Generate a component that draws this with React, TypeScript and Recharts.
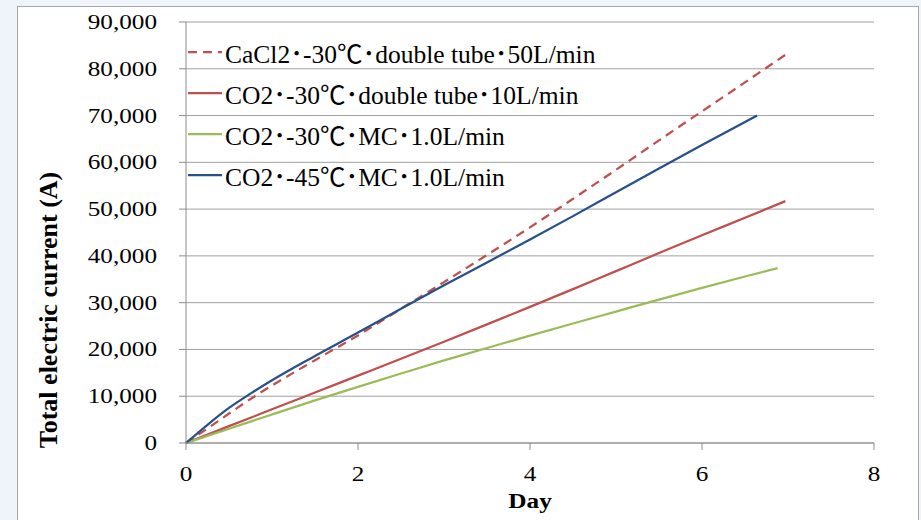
import React from "react";
import { LineChart, Line, XAxis, YAxis, CartesianGrid, Legend } from "recharts";

// CaCl2 · -30℃ · double tube · 50L/min (dashed)
const cacl2Days = [0, 0.25, 0.5, 0.8, 1.0, 1.5, 2.0, 2.5, 3.0, 3.5, 4.0, 4.5, 5.0, 5.5, 6.0, 6.5, 6.97];
const cacl2Values = [0, 3100, 6300, 10000, 12300, 17700, 23000, 28700, 34400, 40200, 46100, 52200, 58400, 64700, 70900, 77100, 83000];

// CO2 · -30℃ · double tube · 10L/min
const co2TubeDays = [0, 0.5, 1.0, 1.5, 2.0, 2.5, 3.0, 3.5, 4.0, 4.5, 5.0, 5.5, 6.0, 6.5, 6.97];
const co2TubeValues = [0, 3600, 7200, 10800, 14400, 18000, 21650, 25350, 29100, 32900, 36750, 40600, 44400, 48150, 51700];

// CO2 · -30℃ · MC · 1.0L/min
const co2Mc30Days = [0, 0.5, 1.0, 1.5, 2.0, 2.5, 3.0, 3.5, 4.0, 4.5, 5.0, 5.5, 6.0, 6.5, 6.88];
const co2Mc30Values = [0, 3050, 6100, 9100, 12000, 14850, 17650, 20300, 22950, 25550, 28100, 30650, 33150, 35600, 37400];

// CO2 · -45℃ · MC · 1.0L/min
const co2Mc45Days = [0, 0.25, 0.5, 0.75, 1.0, 1.5, 2.0, 2.5, 3.0, 3.5, 4.0, 4.5, 5.0, 5.5, 6.0, 6.64];
const co2Mc45Values = [0, 3900, 7500, 10550, 13400, 18600, 23600, 28700, 33700, 38600, 43500, 48500, 53600, 58700, 63700, 70000];

const xTicks = [0, 2, 4, 6, 8];
const yTicks = [0, 10000, 20000, 30000, 40000, 50000, 60000, 70000, 80000, 90000];

const toPoints = (days: number[], values: number[]) =>
  days.map((d, i) => ({ day: d, value: values[i] }));

const series = [
  { name: "CaCl2･-30℃･double tube･50L/min", color: "#c0504d", dash: "9 6", data: toPoints(cacl2Days, cacl2Values) },
  { name: "CO2･-30℃･double tube･10L/min", color: "#c0504d", dash: undefined, data: toPoints(co2TubeDays, co2TubeValues) },
  { name: "CO2･-30℃･MC･1.0L/min", color: "#9bbb59", dash: undefined, data: toPoints(co2Mc30Days, co2Mc30Values) },
  { name: "CO2･-45℃･MC･1.0L/min", color: "#28508a", dash: undefined, data: toPoints(co2Mc45Days, co2Mc45Values) },
];

const serif = "'Liberation Serif', 'Noto Sans CJK JP', serif";

const YTick = (props: any) => {
  const { x, y, payload } = props;
  return (
    <g transform={`translate(${x},${y})`}>
      <text transform="scale(1.2,1)" x={0} y={0} dy={7} textAnchor="end" fontSize={21} fontFamily={serif} fill="#000">
        {payload.value.toLocaleString("en-US")}
      </text>
    </g>
  );
};

const XTick = (props: any) => {
  const { x, y, payload } = props;
  return (
    <g transform={`translate(${x},${y})`}>
      <text transform="scale(1.2,1)" x={0} y={0} dy={31} textAnchor="middle" fontSize={21} fontFamily={serif} fill="#000">
        {payload.value}
      </text>
    </g>
  );
};

const DayLabel = (props: any) => {
  const vb = props.viewBox;
  const cx = vb.x + vb.width / 2;
  return (
    <g transform={`translate(${cx},508)`}>
      <text transform="scale(1.15,1)" textAnchor="middle" fontSize={22} fontWeight="bold" fontFamily={serif} fill="#000">
        Day
      </text>
    </g>
  );
};

const CurrentLabel = () => (
  <text
    transform="translate(57,310) rotate(-90)"
    textAnchor="middle"
    fontSize={26}
    fontWeight="bold"
    fontFamily={serif}
    fill="#000"
  >
    Total electric current (A)
  </text>
);

const LegendBox = () => (
  <div style={{ fontFamily: serif, fontSize: 25.5, color: "#000" }}>
    {series.map((s) => (
      <div key={s.name} style={{ height: 41, display: "flex", alignItems: "center", whiteSpace: "nowrap" }}>
        <svg width={34} height={4} style={{ marginRight: 3 }}>
          <line x1={0} y1={2} x2={34} y2={2} stroke={s.color} strokeWidth={2.25} strokeDasharray={s.dash} />
        </svg>
        <span>{s.name}</span>
      </div>
    ))}
  </div>
);

export default function App() {
  return (
    <div style={{ position: "absolute", left: 0, top: 0, width: 921, height: 520, background: "#eef4fa", overflow: "hidden" }}>
      <div
        style={{
          position: "absolute",
          left: 17,
          top: 6,
          width: 900,
          height: 530,
          background: "#fff",
          border: "1px solid #a6a6a6",
        }}
      />
      <div style={{ position: "absolute", left: 0, top: 0 }}>
        <LineChart width={921} height={520} margin={{ top: 22, right: 47, bottom: 0, left: 0 }}>
          <CartesianGrid horizontal vertical={false} stroke="#a0a0a0" />
          <XAxis
            dataKey="day"
            type="number"
            domain={[0, 8]}
            ticks={xTicks}
            allowDuplicatedCategory={false}
            height={77}
            tickSize={7}
            tickMargin={0}
            stroke="#8c8c8c"
            tick={<XTick />}
            label={<DayLabel />}
          />
          <YAxis
            type="number"
            domain={[0, 90000]}
            ticks={yTicks}
            width={186}
            tickSize={7}
            tickMargin={22}
            stroke="#8c8c8c"
            tick={<YTick />}
            label={<CurrentLabel />}
          />
          <Legend
            layout="horizontal"
            verticalAlign="middle"
            align="center"
            wrapperStyle={{ top: 31, left: 188, width: "auto" }}
            content={<LegendBox />}
          />
          {series.map((s) => (
            <Line
              key={s.name}
              data={s.data}
              dataKey="value"
              name={s.name}
              type="monotone"
              stroke={s.color}
              strokeWidth={2.25}
              strokeDasharray={s.dash}
              dot={false}
              activeDot={false}
              isAnimationActive={false}
            />
          ))}
        </LineChart>
      </div>
    </div>
  );
}
